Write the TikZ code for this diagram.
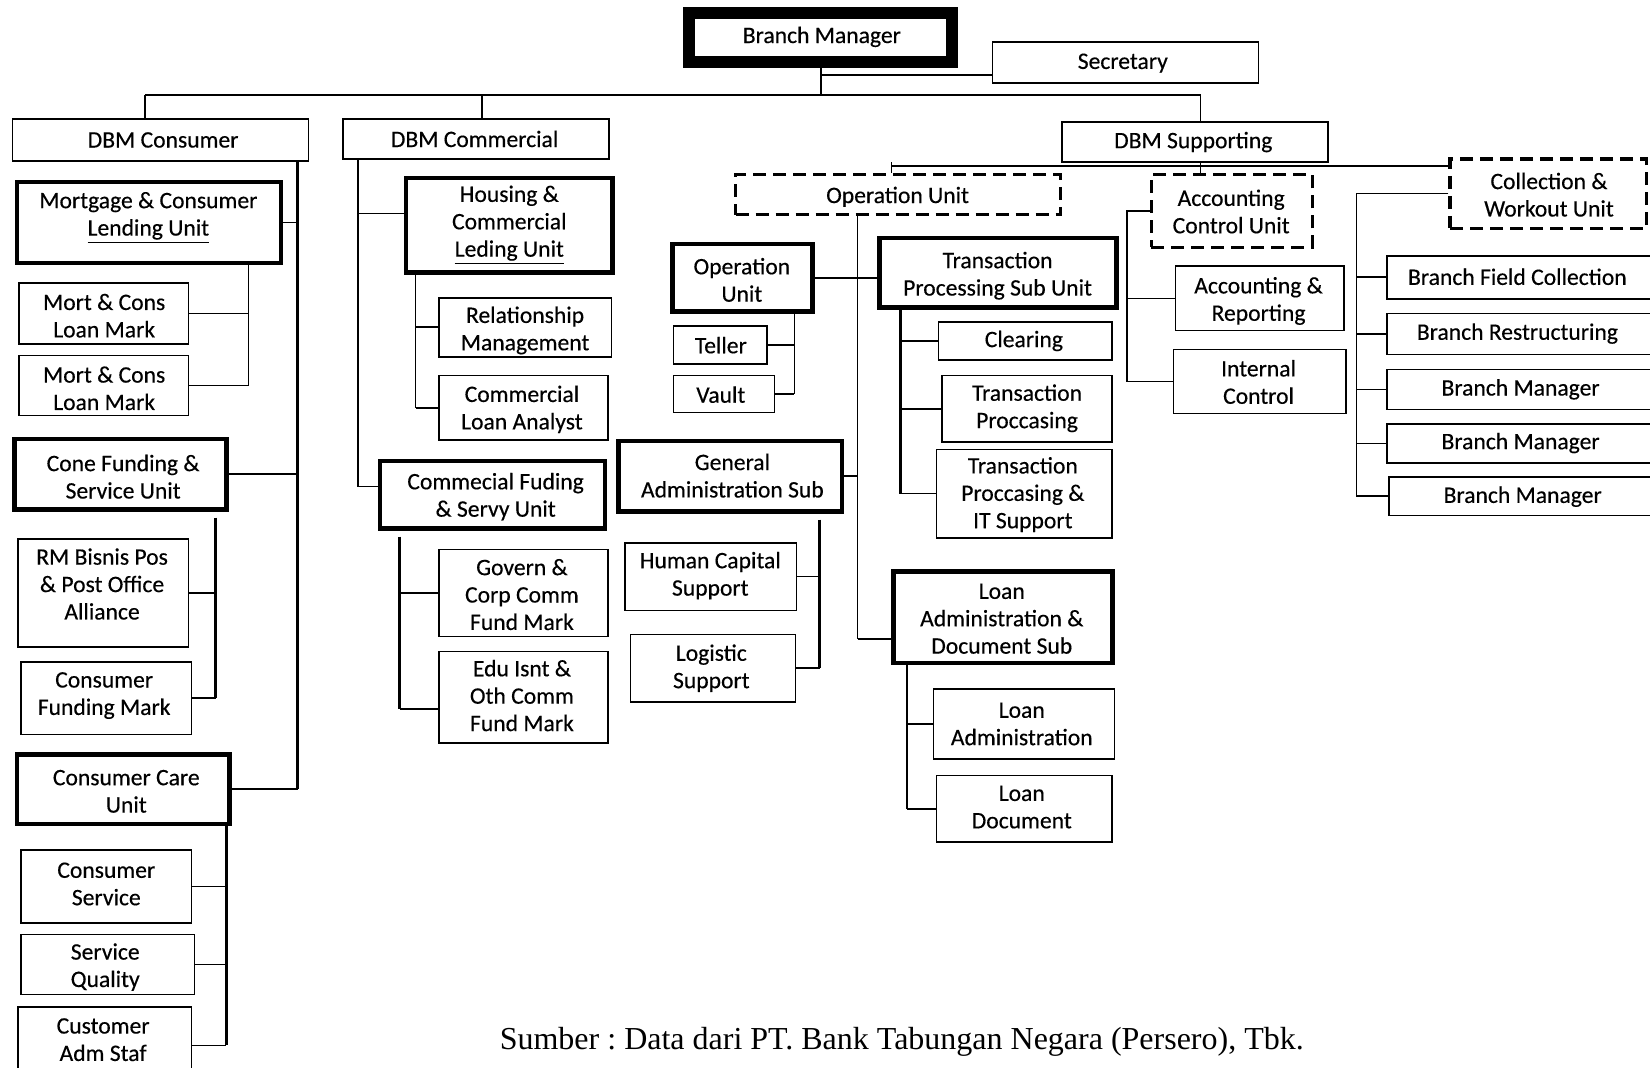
\documentclass[tikz,border=0pt]{standalone}
\usepackage{fontspec}
\setmainfont{Carlito}[FakeBold=0.35]
\newfontfamily\capfont{Liberation Serif}
\frenchspacing
\tikzset{
 bxs/.style={draw, line width=0.8pt, inner sep=0pt},
 tbx/.style={draw, line width=2.3pt, inner sep=0pt},
 dbx/.style={draw, line width=1.6pt, dash pattern=on 6.5pt off 3.5pt, inner sep=0pt},
 topbx/.style={draw, line width=6pt, inner sep=0pt},
 txt/.style={align=center, inner sep=0pt, font=\fontsize{11.8}{13.7}\selectfont},
 conn/.style={line width=0.8pt},
 sconn/.style={line width=1.5pt},
}
\newcommand\bx[9]{%
 \node[#6, minimum width={(#4-#2)*0.52615pt}, minimum height={(#5-#3)*0.52615pt}] (#1) at ({(#2+#4)/2},{(#3+#5)/2}) {};
 \node[txt] (#1t) at (#7,#8) {#9};}
\begin{document}
\begin{tikzpicture}[x=0.52615pt, y=-0.52615pt]
\useasboundingbox (0,0) rectangle (1568,1014);
\clip (0,0) rectangle (1568,1014);
\fill[white] (0,0) rectangle (1568,1014);
% ---- boxes ----
\bx{bm}{655}{12.5}{905}{59}{topbx}{781}{35}{Branch Manager}
\bx{sec}{943}{40}{1196}{79}{bxs}{1067}{60}{Secretary}
\bx{dcons}{12}{113}{293}{153}{bxs}{155}{133}{DBM Consumer}
\bx{dcomm}{326}{113}{579}{151}{bxs}{451}{132}{DBM Commercial}
\bx{dsup}{1009}{116}{1262}{154}{bxs}{1134}{135}{DBM Supporting}
\bx{mcl}{16}{173}{267}{250}{tbx}{141}{207}{Mortgage \& Consumer\\\underline{Lending Unit}}
\bx{mcma}{18}{269}{179}{327}{bxs}{99}{300}{Mort \& Cons\\Loan Mark}
\bx{mcmb}{18}{338}{179}{395}{bxs}{99}{369}{Mort \& Cons\\Loan Mark}
\bx{cfs}{14}{417}{215}{484}{tbx}{117}{453}{Cone Funding \&\\Service Unit}
\bx{rmb}{17}{512}{179}{615}{bxs}{97}{555}{RM Bisnis Pos\\\& Post Office\\Alliance}
\bx{cfm}{20}{629}{182}{698}{bxs}{99}{661}{Consumer\\Funding Mark}
\bx{ccu}{16}{717}{218}{783}{tbx}{120}{752}{Consumer Care\\Unit}
\bx{cs}{20}{808}{182}{877}{bxs}{101}{840}{Consumer\\Service}
\bx{sq}{20}{888}{185}{945}{bxs}{100}{919}{Service\\Quality}
\bx{cas}{17}{957}{182}{1030}{bxs}{98}{988}{Customer\\Adm Staf}
\bx{hcl}{386}{169}{582}{259}{tbx}{484}{214}{Housing \&\\Commercial\\\underline{Leding Unit}}
\bx{rm}{417}{283}{581}{339}{bxs}{499}{314}{Relationship\\Management}
\bx{cla}{417}{357}{578}{418}{bxs}{496}{389}{Commercial\\Loan Analyst}
\bx{cfsu}{361}{438}{575}{502}{tbx}{471}{472}{Commecial Fuding\\\& Servy Unit}
\bx{gcc}{417}{522}{578}{605}{bxs}{496}{565}{Govern \&\\Corp Comm\\Fund Mark}
\bx{edu}{417}{619}{578}{706}{bxs}{496}{661}{Edu Isnt \&\\Oth Comm\\Fund Mark}
\bx{opu}{699}{166}{1008}{204}{dbx}{853}{187}{Operation Unit}
\bx{acu}{1094}{166}{1247}{235}{dbx}{1170}{201}{Accounting\\Control Unit}
\bx{cwu}{1378}{151}{1565}{217}{dbx}{1472}{185}{Collection \&\\Workout Unit}
\bx{opub}{639}{232}{772}{296}{tbx}{705}{266}{Operation\\Unit}
\bx{tel}{640}{310}{729}{346}{bxs}{685}{328}{Teller}
\bx{vau}{640}{357}{736}{392}{bxs}{685}{375}{Vault}
\bx{tps}{836}{226}{1061}{292}{tbx}{948}{262}{Transaction\\Processing Sub Unit}
\bx{clr}{892}{306}{1057}{342}{bxs}{973}{324}{Clearing}
\bx{tp}{895}{357}{1057}{420}{bxs}{976}{388}{Transaction\\Proccasing}
\bx{tpit}{890}{427}{1057}{511}{bxs}{972}{470}{Transaction\\Proccasing \&\\IT Support}
\bx{gas}{588}{419}{800}{486}{tbx}{696}{452}{General\\Administration Sub}
\bx{hcs}{594}{516}{757}{580}{bxs}{675}{547}{Human Capital\\Support}
\bx{ls}{599}{603}{756}{667}{bxs}{676}{635}{Logistic\\Support}
\bx{lad}{849}{543}{1057}{630}{tbx}{952}{588}{Loan\\Administration \&\\Document Sub}
\bx{la}{887}{655}{1059}{721}{bxs}{971}{688}{Loan\\Administration}
\bx{ld}{890}{737}{1057}{800}{bxs}{971}{767}{Loan\\Document}
\bx{ar}{1117}{253}{1277}{314}{bxs}{1196}{286}{Accounting \&\\Reporting}
\bx{ic}{1115}{332}{1279}{393}{bxs}{1196}{363}{Internal\\Control}
\bx{bfc}{1318}{243}{1590}{284}{bxs}{1442}{263}{Branch Field Collection}
\bx{br}{1318}{298}{1590}{337}{bxs}{1442}{317}{Branch Restructuring}
\bx{bma}{1318}{351}{1590}{389}{bxs}{1445}{370}{Branch Manager}
\bx{bmb}{1318}{403}{1590}{440}{bxs}{1445}{421}{Branch Manager}
\bx{bmc}{1320}{453}{1590}{490}{bxs}{1447}{472}{Branch Manager}
\node[font=\capfont\fontsize{16}{19}\selectfont, anchor=base, inner sep=0pt] (src) at (857,997) {Sumber : Data dari PT. Bank Tabungan Negara (Persero), Tbk.};
% ---- junction coordinates ----
\coordinate (b1) at (138,90);
\coordinate (b2) at (458,90);
\coordinate (b3) at (1141,90);
\coordinate (bmj) at ([yshift=-3.5pt]bm.south);
\coordinate (h1) at (847,158);
\coordinate (s1) at (283,0);
\coordinate (s2) at (236,0);
\coordinate (s3) at (205,0);
\coordinate (s4) at (215,0);
\coordinate (s5) at (340,0);
\coordinate (s6) at (395,0);
\coordinate (s7) at (380,0);
\coordinate (s8) at (815,0);
\coordinate (s9) at (755,0);
\coordinate (s10) at (856,0);
\coordinate (s11) at (779,0);
\coordinate (s12) at (862,0);
\coordinate (s13) at (1071,0);
\coordinate (s14) at (1289,0);
\coordinate (hclw) at ([yshift=5.8pt]hcl.west);
\coordinate (cfsuw) at ([yshift=4pt]cfsu.west);
\coordinate (eduw) at ([yshift=-6pt]edu.west);
\coordinate (ladw) at ([yshift=-11pt]lad.west);
% ---- top level ----
\draw[conn] (bm.south) -- (bm.south |- b1);
\draw[conn] (bmj) -- (bmj -| sec.west);
\draw[line width=1.2pt] (b1) -- (b3);
\draw[conn] (b1) -- (b1 |- dcons.north);
\draw[conn] (b2) -- (b2 |- dcomm.north);
\draw[conn] (b3) -- (b3 |- dsup.north);
% ---- DBM Consumer ----
\draw[sconn] (dcons.south -| s1) -- (ccu.east -| s1);
\draw[conn] (mcl.east) -- (mcl.east -| s1);
\draw[conn] (cfs.east) -- (cfs.east -| s1);
\draw[conn] (ccu.east) -- (ccu.east -| s1);
\draw[conn] (mcl.south -| s2) -- (mcmb.east -| s2);
\draw[conn] (mcma.east) -- (mcma.east -| s2);
\draw[conn] (mcmb.east) -- (mcmb.east -| s2);
\draw[sconn] ([yshift=-3pt]cfs.south -| s3) -- (cfm.east -| s3);
\draw[conn] (rmb.east) -- (rmb.east -| s3);
\draw[conn] (cfm.east) -- (cfm.east -| s3);
\draw[sconn] (ccu.south -| s4) -- (cas.east -| s4);
\draw[conn] (cs.east) -- (cs.east -| s4);
\draw[conn] (sq.east) -- (sq.east -| s4);
\draw[conn] (cas.east) -- (cas.east -| s4);
% ---- DBM Commercial ----
\draw[conn] (dcomm.south -| s5) -- (cfsuw -| s5);
\draw[conn] (hclw -| s5) -- (hclw);
\draw[conn] (cfsuw -| s5) -- (cfsuw);
\draw[conn] (hcl.south -| s6) -- (cla.west -| s6);
\draw[conn] (rm.west -| s6) -- (rm.west);
\draw[conn] (cla.west -| s6) -- (cla.west);
\draw[sconn] ([yshift=-3pt]cfsu.south -| s7) -- (eduw -| s7);
\draw[conn] (gcc.west -| s7) -- (gcc.west);
\draw[conn] (eduw -| s7) -- (eduw);
% ---- DBM Supporting ----
\draw[conn] (dsup.south -| b3) -- (acu.north -| b3);
\draw[conn] ([yshift=2pt]h1) -- (h1 |- opu.north);
\draw[conn] (h1) -- (h1 -| cwu.west);
% Operation Unit
\draw[conn] (opu.south -| s8) -- (ladw -| s8);
\draw[conn] (opub.east) -- (opub.east -| tps.west);
\draw[conn] (gas.east) -- (gas.east -| s8);
\draw[conn] (ladw -| s8) -- (ladw);
\draw[conn] (opub.south -| s9) -- (vau.east -| s9);
\draw[conn] (tel.east) -- (tel.east -| s9);
\draw[conn] (vau.east) -- (vau.east -| s9);
\draw[sconn] (tps.south -| s10) -- (tpit.west -| s10);
\draw[conn] (clr.west -| s10) -- (clr.west);
\draw[conn] (tp.west -| s10) -- (tp.west);
\draw[conn] (tpit.west -| s10) -- (tpit.west);
\draw[sconn] ([yshift=-3pt]gas.south -| s11) -- (ls.east -| s11);
\draw[conn] (hcs.east) -- (hcs.east -| s11);
\draw[conn] (ls.east) -- (ls.east -| s11);
\draw[conn] (lad.south -| s12) -- (ld.west -| s12);
\draw[conn] (la.west -| s12) -- (la.west);
\draw[conn] (ld.west -| s12) -- (ld.west);
% Accounting Control
\draw[conn] (acu.west) -- (acu.west -| s13) -- (ic.west -| s13) -- (ic.west);
\draw[conn] (ar.west -| s13) -- (ar.west);
% Collection & Workout
\draw[conn] (cwu.west) -- (cwu.west -| s14) -- (bmc.west -| s14) -- (bmc.west);
\draw[conn] (bfc.west -| s14) -- (bfc.west);
\draw[conn] (br.west -| s14) -- (br.west);
\draw[conn] (bma.west -| s14) -- (bma.west);
\draw[conn] (bmb.west -| s14) -- (bmb.west);
\end{tikzpicture}
\end{document}
